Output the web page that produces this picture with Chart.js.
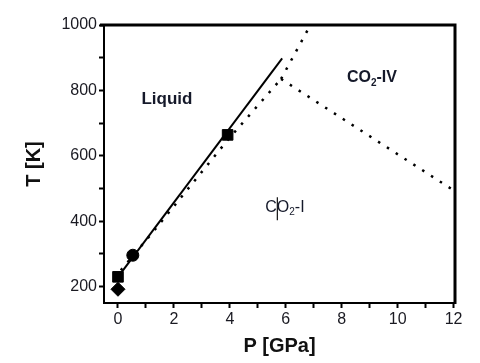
<!DOCTYPE html>
<html>
<head>
<meta charset="utf-8">
<script src="https://cdn.jsdelivr.net/npm/chart.js@4.4.1/dist/chart.umd.min.js"></script>
<style>
  html, body { margin: 0; padding: 0; background: #fff; }
  #wrap { width: 480px; height: 363px; }
</style>
</head>
<body>
<div id="wrap"><canvas id="c" width="480" height="363"></canvas></div>
<script>
// ---- Data ----
const xTicks = [0, 1, 2, 3, 4, 5, 6, 7, 8, 9, 10, 11, 12];
const yTicks = [200, 300, 400, 500, 600, 700, 800, 900, 1000];

// solid fitted line
const solidLineP = [0.05, 5.87];
const solidLineT = [235, 898];

// dotted phase boundaries
const meltIP = [0.1, 1.24, 3.92, 5.83];
const meltIT = [250, 366, 648, 835];
const meltIVP = [5.83, 6.88];
const meltIVT = [835, 1000];
const boundaryP = [5.83, 11.9];
const boundaryT = [835, 500];

// markers
const squareP = [0, 3.92];
const squareT = [230, 664];
const circleP = [0.53];
const circleT = [296];
const diamondP = [0];
const diamondT = [192];

// region labels
const labelTexts = [["Liquid"], ["CO", "2", "-IV"], ["C|O", "2", "-I"]];
const labelP = [1.75, 9.08, 5.97];
const labelT = [774, 838, 443];

const pts = (xs, ys) => xs.map((x, i) => ({ x: x, y: ys[i] }));

const lineStyle = { showLine: true, pointRadius: 0, pointHoverRadius: 0, fill: false, borderColor: '#000', backgroundColor: '#000' };

const labelPlugin = {
  id: 'labels',
  afterDatasetsDraw(chart) {
    const ctx = chart.ctx;
    const xs = chart.scales.x, ys = chart.scales.y;
    ctx.save();
    ctx.fillStyle = '#15192a';
    ctx.textBaseline = 'middle';
    labelTexts.forEach((parts, i) => {
      const cx = xs.getPixelForValue(labelP[i]);
      const cy = ys.getPixelForValue(labelT[i]);
      const bold = i < 2 ? 'bold ' : '';
      const main = bold + (i === 0 ? '17px' : '16px') + ' "Liberation Sans", Arial, sans-serif';
      const sub = bold + '10px "Liberation Sans", Arial, sans-serif';
      let w = 0;
      parts.forEach((p, k) => { ctx.font = (k === 1) ? sub : main; w += ctx.measureText(p.replace('|', '')).width; });
      let x = cx - w / 2;
      parts.forEach((p, k) => {
        ctx.font = (k === 1) ? sub : main;
        ctx.textAlign = 'left';
        if (p.indexOf('|') >= 0) {
          // the stray cursor bar present in the reference
          const before = p.split('|')[0];
          const after = p.split('|')[1];
          ctx.fillText(before, x, cy);
          const bw = ctx.measureText(before).width;
          ctx.save();
          ctx.strokeStyle = '#111';
          ctx.lineWidth = 1.2;
          ctx.beginPath();
          ctx.moveTo(x + bw + 0.5, cy - 10);
          ctx.lineTo(x + bw + 0.5, cy + 13);
          ctx.stroke();
          ctx.restore();
          ctx.fillText(after, x + bw, cy);
          x += bw + ctx.measureText(after).width;
        } else {
          ctx.fillText(p, x, k === 1 ? cy + 5 : cy);
          x += ctx.measureText(p).width;
        }
      });
    });
    ctx.restore();
  },
  afterDraw(chart) {
    const ctx = chart.ctx;
    const a = chart.chartArea;
    ctx.save();
    ctx.strokeStyle = '#000';
    ctx.lineWidth = 3;
    ctx.beginPath();
    ctx.moveTo(a.left - 4, a.top);
    ctx.lineTo(a.right + 1.5, a.top);
    ctx.moveTo(a.right, a.top - 1.5);
    ctx.lineTo(a.right, a.bottom + 1);
    ctx.stroke();
    ctx.restore();
  }
};

const tickFont = { family: '"Liberation Sans", Arial, sans-serif', size: 16 };
const titleFont = { family: '"Liberation Sans", Arial, sans-serif', size: 20, weight: 'bold' };

new Chart(document.getElementById('c'), {
  type: 'scatter',
  data: {
    datasets: [
      Object.assign({ data: pts(solidLineP, solidLineT), borderWidth: 2 }, lineStyle),
      Object.assign({ data: pts(meltIP, meltIT), borderWidth: 2.5, borderDash: [2.5, 8] }, lineStyle),
      Object.assign({ data: pts(meltIVP, meltIVT), borderWidth: 2.5, borderDash: [2.5, 8] }, lineStyle),
      Object.assign({ data: pts(boundaryP, boundaryT), borderWidth: 2.5, borderDash: [2.5, 8] }, lineStyle),
      { data: pts(squareP, squareT), pointStyle: 'rect', pointRadius: 7.5, backgroundColor: '#000', borderColor: '#000', showLine: false },
      { data: pts(circleP, circleT), pointStyle: 'circle', pointRadius: 6, backgroundColor: '#000', borderColor: '#000', showLine: false },
      { data: pts(diamondP, diamondT), pointStyle: 'rectRot', pointRadius: 7, backgroundColor: '#000', borderColor: '#000', showLine: false }
    ]
  },
  options: {
    responsive: false,
    animation: false,
    devicePixelRatio: 1,
    layout: { padding: { top: 25, right: 25, left: 0, bottom: 0 } },
    plugins: { legend: { display: false }, tooltip: { enabled: false } },
    scales: {
      x: {
        type: 'linear', min: -0.5, max: 12.05,
        afterBuildTicks: s => { s.ticks = xTicks.map(v => ({ value: v })); },
        afterFit: s => { s.height = 60; },
        border: { display: true, color: '#000', width: 2 },
        grid: { drawOnChartArea: false, drawTicks: true, tickLength: 5, tickColor: '#000', tickWidth: 2 },
        ticks: { color: '#1a1a22', font: tickFont, padding: 2, maxRotation: 0, autoSkip: false,
                 callback: v => (v % 2 === 0 ? String(v) : '') },
        title: { display: true, text: 'P [GPa]', color: '#111', font: titleFont, padding: { top: 0, bottom: 5 } }
      },
      y: {
        type: 'linear', min: 150, max: 1000,
        afterBuildTicks: s => { s.ticks = yTicks.map(v => ({ value: v })); },
        afterFit: s => { s.width = 104; },
        border: { display: true, color: '#000', width: 2 },
        grid: { drawOnChartArea: false, drawTicks: true, tickLength: 5, tickColor: '#000', tickWidth: 2 },
        ticks: { color: '#1a1a22', font: tickFont, padding: 2, autoSkip: false,
                 callback: v => (v % 200 === 0 ? String(v) : '') },
        title: { display: true, text: 'T [K]', color: '#111', font: titleFont, padding: { top: 22, bottom: 0 } }
      }
    }
  },
  plugins: [labelPlugin]
});
</script>
</body>
</html>
